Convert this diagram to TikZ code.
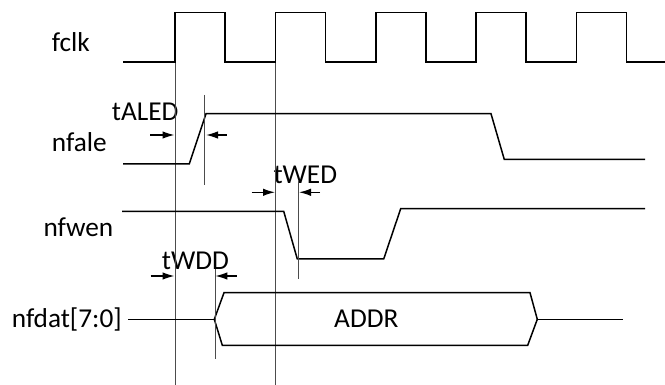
\documentclass[tikz,border=0pt]{standalone}
\usepackage{fontspec}
\setmainfont{Carlito}
\usetikzlibrary{arrows.meta}
\begin{document}
\begin{tikzpicture}[x=1pt,y=-1pt,
  wave/.style={line width=1.5pt,black,line join=miter},
  refline/.style={line width=1pt,black!70},
  tick/.style={line width=1pt,black!70},
  dimarrow/.style={line width=1.3pt,-{Latex[length=12pt,width=7.5pt]}},
  lbl/.style={anchor=base west,inner sep=0pt,font=\fontsize{27.3}{30}\selectfont},
  every node/.style={text=black}]
\useasboundingbox (0,0) rectangle (665,385);
% labels
\node[lbl] (lclk) at (51.7,51.7) {fclk};
\node[lbl] (lale) at (51.7,151.7) {nfale};
\node[lbl] (lwen) at (43.3,236.7) {nfwen};
\node[lbl] (ldat) at (11.7,327.5) {nfdat[7:0]};
\node[lbl] (ltaled) at (111.7,121) {tALED};
\node[lbl] (ltwed) at (273.3,183.5) {tWED};
\node[lbl] (ltwdd) at (161.7,269.3) {tWDD};
\node[lbl] (laddr) at (334,327.3) {ADDR};
% reference lines
\draw[refline] (175,62) -- (175,385);
\draw[refline] (275.4,62) -- (275.4,385);
% fclk
\draw[wave] (123,62) -- (175,62) -- (175,12.7) -- (225,12.7) -- (225,62)
  -- (275.4,62) -- (275.4,12.7) -- (325.4,12.7) -- (325.4,62)
  -- (375.8,62) -- (375.8,12.7) -- (425.8,12.7) -- (425.8,62)
  -- (476.2,62) -- (476.2,12.7) -- (526.2,12.7) -- (526.2,62)
  -- (576.6,62) -- (576.6,12.7) -- (626.6,12.7) -- (626.6,62) -- (665,62);
% nfale
\draw[wave] (123,163.8) -- (189.3,163.8) -- (206,113.7) -- (491,113.7) -- (504.3,159.5) -- (645,159.5);
\draw[tick] (204.7,95) -- (204.7,185);
\coordinate (a1s) at (150,135); \coordinate (a1e) at (174.5,135);
\coordinate (a2s) at (226.7,135); \coordinate (a2e) at (206,135);
\draw[dimarrow] (a1s) -- (a1e);
\draw[dimarrow] (a2s) -- (a2e);
% nfwen
\draw[wave] (122,211.3) -- (283.7,211.3) -- (297.3,259) -- (383.7,259) -- (400.7,208.7) -- (645,208.7);
\draw[tick] (298.7,180) -- (298.7,279);
\coordinate (b1s) at (251.7,192.3); \coordinate (b1e) at (275,192.3);
\coordinate (b2s) at (320,192.3); \coordinate (b2e) at (299,192.3);
\draw[dimarrow] (b1s) -- (b1e);
\draw[dimarrow] (b2s) -- (b2e);
% nfdat
\draw[wave] (128.3,319.3) -- (214.3,319.3);
\draw[wave] (214.3,319.3) -- (224,292.7) -- (530,292.7) -- (537.3,319.3) -- (527.7,345.3) -- (222.3,345.3) -- cycle;
\draw[wave] (537.3,319.3) -- (622.7,319.3);
\draw[tick] (215,269) -- (215,359);
\coordinate (c1s) at (150.7,276); \coordinate (c1e) at (174.5,276);
\coordinate (c2s) at (236.7,276); \coordinate (c2e) at (215.3,276);
\draw[dimarrow] (c1s) -- (c1e);
\draw[dimarrow] (c2s) -- (c2e);
\end{tikzpicture}
\end{document}
